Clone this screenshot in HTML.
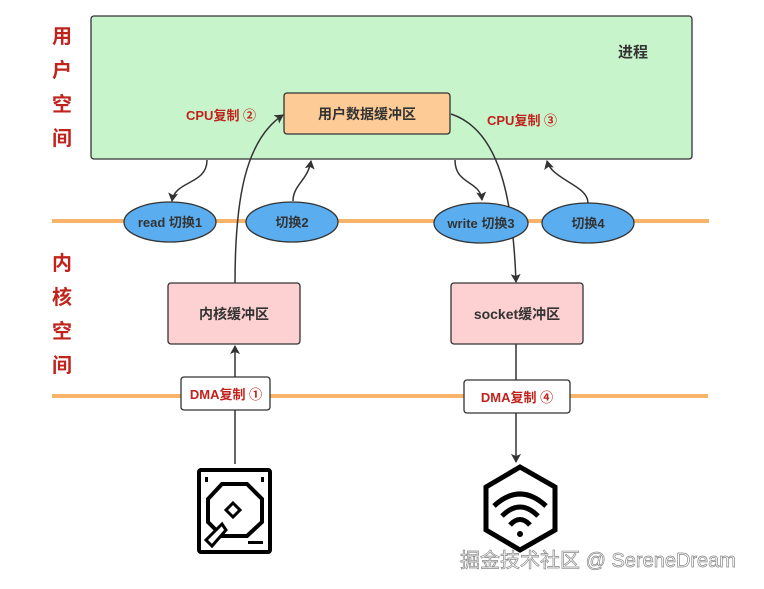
<!DOCTYPE html>
<html><head><meta charset="utf-8"><style>
body{margin:0;background:#fff;}
svg{display:block;font-family:"Liberation Sans","Noto Sans CJK SC",sans-serif;}
</style></head><body>
<svg width="764" height="589" viewBox="0 0 764 589" xmlns="http://www.w3.org/2000/svg">
<defs>
<marker id="a" markerWidth="10" markerHeight="10" refX="8" refY="5" orient="auto" markerUnits="userSpaceOnUse">
<path d="M0,0 L9,5 L0,10 L2,5 z" fill="#333"/></marker>
</defs>
<rect x="91" y="16" width="601" height="143" rx="3" fill="#c8f4cc" stroke="#333" stroke-width="1.3"/>
<text x="633" y="57" font-size="15" font-weight="bold" fill="#333" text-anchor="middle">进程</text>
<rect x="284" y="93" width="166" height="41" rx="3" fill="#fdcb96" stroke="#333" stroke-width="1.3"/>
<text x="367" y="119" font-size="14" font-weight="bold" fill="#333" text-anchor="middle">用户数据缓冲区</text>
<text x="186" y="120" font-size="13" font-weight="bold" fill="#c0221c">CPU复制 ②</text>
<text x="487" y="125" font-size="13" font-weight="bold" fill="#c0221c">CPU复制 ③</text>
<g font-size="20" font-weight="bold" fill="#c0221c" text-anchor="middle">
<text x="62" y="43">用</text><text x="62" y="77">户</text><text x="62" y="111">空</text><text x="62" y="145">间</text>
<text x="62" y="270">内</text><text x="62" y="304">核</text><text x="62" y="338">空</text><text x="62" y="372">间</text>
</g>
<line x1="52" y1="221" x2="709" y2="221" stroke="#f7b36a" stroke-width="4"/>
<line x1="52" y1="396" x2="708" y2="396" stroke="#f7b36a" stroke-width="4"/>
<g stroke="#333" stroke-width="1.5" fill="none">
<path d="M207,160 C207,185 175,180 172,201" marker-end="url(#a)"/>
<path d="M293,201 C293,185 308,180 311,161" marker-end="url(#a)"/>
<path d="M455,160 C455,185 480,180 482,200" marker-end="url(#a)"/>
<path d="M588,203 C588,185 552,180 547,161" marker-end="url(#a)"/>
<path d="M235,283 C235,200 245,140 283,115" marker-end="url(#a)"/>
<path d="M451,114 C500,130 513,200 516,282" marker-end="url(#a)"/>
<path d="M235,464 L235,410"/>
<path d="M235,377 L235,346" marker-end="url(#a)"/>
<path d="M516,344 L516,462" marker-end="url(#a)"/>
</g>
<g stroke="#333" stroke-width="1.3" fill="#5aaef0">
<ellipse cx="170" cy="222" rx="46" ry="20"/>
<ellipse cx="292" cy="222" rx="46" ry="20"/>
<ellipse cx="481" cy="223" rx="47" ry="20"/>
<ellipse cx="588" cy="223" rx="46" ry="20"/>
</g>
<g font-size="13" font-weight="bold" fill="#333" text-anchor="middle">
<text x="170" y="227">read 切换1</text>
<text x="292" y="227">切换2</text>
<text x="481" y="228">write 切换3</text>
<text x="588" y="228">切换4</text>
</g>
<rect x="168" y="283" width="132" height="61" rx="3" fill="#fdd1d1" stroke="#333" stroke-width="1.3"/>
<rect x="451" y="283" width="132" height="61" rx="3" fill="#fdd1d1" stroke="#333" stroke-width="1.3"/>
<text x="234" y="319" font-size="14" font-weight="bold" fill="#333" text-anchor="middle">内核缓冲区</text>
<text x="517" y="319" font-size="14" font-weight="bold" fill="#333" text-anchor="middle">socket缓冲区</text>
<rect x="181" y="377" width="89" height="33" rx="3" fill="#fff" stroke="#333" stroke-width="1.3"/>
<rect x="464" y="380" width="106" height="33" rx="3" fill="#fff" stroke="#333" stroke-width="1.3"/>
<text x="226" y="399" font-size="13" font-weight="bold" fill="#c0221c" text-anchor="middle">DMA复制 ①</text>
<text x="517" y="402" font-size="13" font-weight="bold" fill="#c0221c" text-anchor="middle">DMA复制 ④</text>
<!-- disk -->
<rect x="199" y="470" width="71" height="82" rx="2" fill="none" stroke="#000" stroke-width="4"/>
<rect x="205" y="477" width="3" height="5" fill="#000"/><rect x="261" y="477" width="3" height="5" fill="#000"/>
<polygon points="222,484 247,484 262,499 262,522 247,536 222,536 208,522 208,499" fill="none" stroke="#000" stroke-width="4"/>
<polygon points="233,503 240,510 233,517 226,510" fill="none" stroke="#000" stroke-width="3"/>
<polygon points="222,524 206,540 212,546 226,530" fill="#fff" stroke="#000" stroke-width="3"/>
<rect x="248" y="541" width="15" height="3" fill="#000"/>
<!-- wifi hex -->
<polygon points="520,467 555,487 555,530 520,550 486,530 486,487" fill="none" stroke="#000" stroke-width="5"/>
<path d="M494,506 Q520,482 546,506" fill="none" stroke="#000" stroke-width="5"/>
<path d="M502,516 Q520,498 538,516" fill="none" stroke="#000" stroke-width="5"/>
<path d="M510,525 Q520,514 530,525" fill="none" stroke="#000" stroke-width="5"/>
<circle cx="520" cy="534" r="3" fill="#000"/>
<text x="598" y="567" font-size="20" fill="#fff" stroke="#888" stroke-width="0.7" text-anchor="middle">掘金技术社区 @ SereneDream</text>
</svg>
</body></html>
